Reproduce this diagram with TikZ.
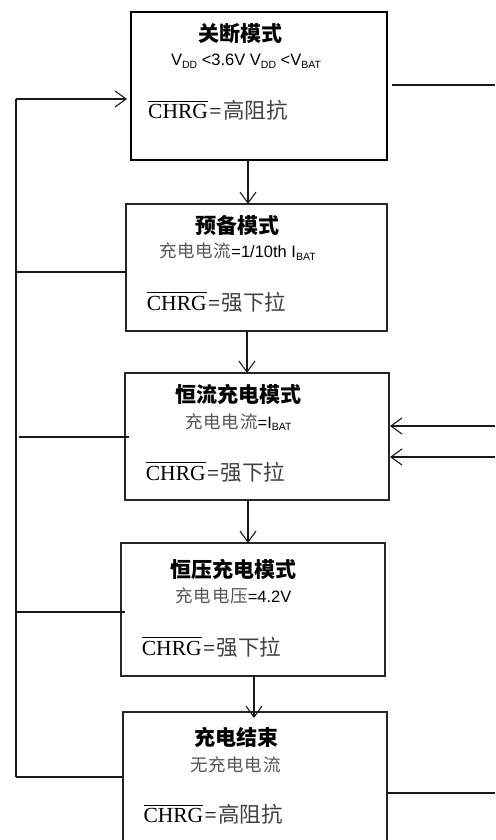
\documentclass[tikz,border=0pt]{standalone}
\usepackage{fontspec}
\setmainfont{Liberation Serif}
\newfontfamily\cjkt{Noto Sans CJK SC}
\newfontfamily\cjkm[LetterSpace=4]{Noto Sans CJK SC}
\newfontfamily\cjkr{Noto Sans CJK SC}
\newfontfamily\arl{Liberation Sans}
\usetikzlibrary{arrows.meta}
\definecolor{cjkgray}{HTML}{555555}
\definecolor{chrggray}{HTML}{404040}
\newcommand{\lowsub}[1]{\raisebox{-0.3ex}{\fontsize{10.5}{11}\selectfont #1}}
\newcommand{\zh}[1]{{\fontsize{17.5}{19}\selectfont\cjkm\color{cjkgray}#1}}
\newcommand{\zhc}[1]{{\cjkr\color{chrggray}#1}}
\newcommand{\ovl}[1]{\leavevmode\setbox0\hbox{#1}\rlap{\rule[\dimexpr\ht0+3pt\relax]{\wd0}{0.9pt}}\box0}
\newcommand{\eqs}{\kern1.5pt=\kern1.5pt}
\tikzset{
  box/.style={draw=black!85, line width=1.4pt, inner sep=0pt, outer sep=0pt},
  boxthick/.style={draw=black, line width=2.6pt, inner sep=0pt, outer sep=0pt},
  ttl/.style={anchor=base, inner sep=0pt, font=\fontsize{21}{23}\selectfont\cjkt\bfseries},
  val/.style={anchor=base, inner sep=0pt, font=\fontsize{16.5}{18}\selectfont\arl},
  chrg/.style={anchor=base west, inner sep=0pt, font=\fontsize{21.5}{23}\selectfont},
  conn/.style={line width=1.2pt, black!90},
  arr/.style={conn, -{Straight Barb[length=11pt,width=16pt,line width=1.1pt]}}
}
\begin{document}
\begin{tikzpicture}[x=1pt,y=-1pt]
\clip (0,0) rectangle (495,840);
\fill[white] (0,0) rectangle (495,840);
% boxes
\node[boxthick, minimum width=256pt, minimum height=148pt] (b1) at (259,86) {};
\node[box, minimum width=261pt, minimum height=127pt] (b2) at (256.5,267.5) {};
\node[box, minimum width=264pt, minimum height=127pt] (b3) at (257,436.5) {};
\node[box, minimum width=264pt, minimum height=133pt] (b4) at (253,609.5) {};
\node[box, minimum width=264pt, minimum height=148pt] (b5) at (255,786) {};
% texts
\node[ttl] (t1) at (240,41.5) {关断模式};
\node[val] (v1) at (246,65.5) {V\lowsub{DD} <3.6V V\lowsub{DD} <V\lowsub{BAT}};
\node[chrg] (c1) at (148,119) {\ovl{CHRG}\eqs\zhc{高阻抗}};
\node[ttl] (t2) at (237,233) {预备模式};
\node[val] (v2) at (237.5,257.5) {\zh{充电电流}=1/10th I\lowsub{BAT}};
\node[chrg] (c2) at (146.7,310) {\ovl{CHRG}\eqs\zhc{强下拉}};
\node[ttl] (t3) at (238,402) {恒流充电模式};
\node[val] (v3) at (238.5,428) {\zh{充电电流}=I\lowsub{BAT}};
\node[chrg] (c3) at (145.7,480) {\ovl{CHRG}\eqs\zhc{强下拉}};
\node[ttl] (t4) at (233,577) {恒压充电模式};
\node[val] (v4) at (233.5,602.5) {\zh{充电电压}=4.2V};
\node[chrg] (c4) at (141.7,655) {\ovl{CHRG}\eqs\zhc{强下拉}};
\node[ttl] (t5) at (236,745) {充电结束};
\node[val] (v5) at (235.5,771.5) {\zh{无充电电流}};
\node[chrg] (c5) at (143.3,822.7) {\ovl{CHRG}\eqs\zhc{高阻抗}};
% coordinates
\coordinate (L0) at (16,99);
\coordinate (Lb) at (16,777);
\coordinate (L2) at (16,272);
\coordinate (L3) at (19,437);
\coordinate (L4) at (16,612);
\coordinate (R1) at (495,85);
\coordinate (R3a) at (495,426);
\coordinate (R3b) at (495,457);
\coordinate (R5) at (495,793);
\coordinate (x1) at (248,0);
\coordinate (x2) at (247,0);
\coordinate (x3) at (248,0);
\coordinate (x4) at (254,0);
% left loop
\draw[conn] (Lb) -- (L0);
\draw[arr, shorten >=4pt] (L0) -- (b1.west |- L0);
\draw[conn] (Lb) -- (b5.west |- Lb);
\draw[conn] (L2) -- (b2.west |- L2);
\draw[conn] (L3) -- ([xshift=4pt]b3.west |- L3);
\draw[conn] (L4) -- ([xshift=4pt]b4.west |- L4);
% right side
\draw[conn] ([xshift=5pt]b1.east |- R1) -- (R1);
\draw[arr, shorten >=1pt] (R3a) -- (b3.east |- R3a);
\draw[arr, shorten >=1pt] (R3b) -- (b3.east |- R3b);
\draw[conn] (b5.east |- R5) -- (R5);
% down arrows
\draw[arr] (b1.south -| x1) -- (b2.north -| x1);
\draw[arr] (b2.south -| x2) -- (b3.north -| x2);
\draw[arr] (b3.south -| x3) -- (b4.north -| x3);
\draw[arr, shorten >=-6pt] (b4.south -| x4) -- (b5.north -| x4);
\end{tikzpicture}
\end{document}
